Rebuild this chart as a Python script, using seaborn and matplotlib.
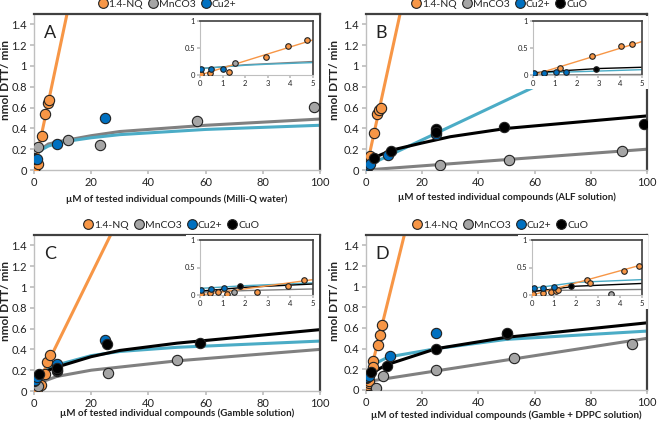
import matplotlib
matplotlib.use("Agg")
import matplotlib.pyplot as plt
from matplotlib.lines import Line2D
from matplotlib.patches import Rectangle
import seaborn as sns
import pandas as pd

sns.set_theme(style="white")
plt.rcParams['font.family'] = ['Lato', 'DejaVu Sans']

# ---------------- data ----------------
series_names = ["1.4-NQ", "MnCO3", "Cu2+", "CuO"]
panel_letters = ["A", "B", "C", "D"]
xlabels = ["µM of tested individual compounds (Milli-Q water)",
           "µM of tested individual compounds (ALF solution)",
           "µM of tested individual compounds (Gamble solution)",
           "µM of tested individual compounds (Gamble + DPPC solution)"]
ylabel_text = "nmol DTT/ min"
x_ticks = [0, 20, 40, 60, 80, 100]
y_ticks = [0, 0.2, 0.4, 0.6, 0.8, 1, 1.2, 1.4]
y_tick_labels = ["0", "0.2", "0.4", "0.6", "0.8", "1", "1.2", "1.4"]
inset_x_ticks = [0, 1, 2, 3, 4, 5]
inset_y_ticks = [0, 0.5, 1]
inset_y_tick_labels = ["0", "0.5", "1"]

# Panel A (Milli-Q water)
A_nq_x = [0.05, 0.45, 1.3, 2.9, 3.9, 4.75, 5.3]
A_nq_y = [0.02, 0.03, 0.06, 0.33, 0.54, 0.64, 0.67]
A_mn_x = [1.55, 12, 23, 57, 98]
A_mn_y = [0.22, 0.29, 0.24, 0.47, 0.61]
A_cu_x = [0.05, 0.5, 1.0, 8, 25]
A_cu_y = [0.12, 0.11, 0.11, 0.25, 0.50]
A_nq_fit_x = [0, 12]
A_nq_fit_y = [0, 1.56]
A_mn_fit_x = [0, 1, 2, 3, 5, 10, 20, 30, 60, 100]
A_mn_fit_y = [0.12, 0.15, 0.19, 0.21, 0.25, 0.28, 0.33, 0.37, 0.43, 0.49]
A_cu_fit_x = [0, 1, 2, 3, 5, 10, 20, 30, 60, 100]
A_cu_fit_y = [0.12, 0.15, 0.18, 0.20, 0.23, 0.27, 0.31, 0.34, 0.39, 0.43]

# Panel B (ALF)
B_nq_x = [0.05, 0.5, 1.25, 2.7, 4.05, 4.55, 5.3]
B_nq_y = [0.01, 0.03, 0.13, 0.36, 0.54, 0.58, 0.60]
B_mn_x = [26.5, 51, 91]
B_mn_y = [0.05, 0.10, 0.18]
B_cu_x = [0.05, 0.5, 1.05, 1.5, 8, 25]
B_cu_y = [0.04, 0.03, 0.05, 0.06, 0.14, 0.35]
B_cuo_x = [2.9, 9, 25, 25, 49, 99]
B_cuo_y = [0.12, 0.18, 0.39, 0.37, 0.41, 0.44]
B_nq_fit_x = [0, 13]
B_nq_fit_y = [0, 1.61]
B_mn_fit_x = [0, 100]
B_mn_fit_y = [0, 0.20]
B_cu_fit_x = [0, 100]
B_cu_fit_y = [0.035, 1.31]
B_cuo_fit_x = [0, 1, 3, 9, 20, 30, 50, 100]
B_cuo_fit_y = [0.04, 0.07, 0.12, 0.19, 0.26, 0.32, 0.40, 0.52]

# Panel C (Gamble)
C_nq_x = [0.05, 0.45, 0.8, 1.2, 2.5, 3.9, 4.6, 5.5]
C_nq_y = [0.01, 0.03, 0.06, 0.02, 0.06, 0.16, 0.28, 0.35]
C_mn_x = [1.5, 8, 26, 50]
C_mn_y = [0.05, 0.19, 0.17, 0.30]
C_cu_x = [0.05, 0.5, 1.05, 8, 25]
C_cu_y = [0.10, 0.11, 0.13, 0.26, 0.49]
C_cuo_x = [1.75, 8, 8, 25.5, 58]
C_cuo_y = [0.16, 0.20, 0.22, 0.45, 0.46]
C_nq_fit_x = [0, 30]
C_nq_fit_y = [0, 1.68]
C_mn_fit_x = [0, 2, 5, 8, 20, 30, 50, 100]
C_mn_fit_y = [0.05, 0.08, 0.11, 0.14, 0.20, 0.23, 0.29, 0.40]
C_cu_fit_x = [0, 2, 5, 8, 20, 30, 50, 100]
C_cu_fit_y = [0.12, 0.17, 0.22, 0.25, 0.34, 0.38, 0.42, 0.48]
C_cuo_fit_x = [0, 2, 5, 8, 20, 30, 50, 100]
C_cuo_fit_y = [0.07, 0.14, 0.20, 0.23, 0.33, 0.39, 0.46, 0.59]

# Panel D (Gamble + DPPC)
D_nq_x = [0.05, 0.5, 0.85, 1.1, 1.2, 2.5, 2.65, 4.2, 4.85, 5.8]
D_nq_y = [0.01, 0.04, 0.05, 0.07, 0.09, 0.28, 0.22, 0.44, 0.53, 0.63]
D_mn_x = [3.6, 6, 25, 52.5, 94.5]
D_mn_y = [0.02, 0.14, 0.19, 0.31, 0.45]
D_cu_x = [0.1, 0.5, 1.0, 8.5, 25]
D_cu_y = [0.12, 0.13, 0.14, 0.33, 0.55]
D_cuo_x = [1.75, 7.5, 25, 50, 50]
D_cuo_y = [0.17, 0.23, 0.40, 0.54, 0.55]
D_nq_fit_x = [0, 14]
D_nq_fit_y = [0, 1.54]
D_mn_fit_x = [0, 100]
D_mn_fit_y = [0.08, 0.50]
D_cu_fit_x = [0, 2, 5, 8, 25, 50, 100]
D_cu_fit_y = [0.12, 0.23, 0.28, 0.32, 0.40, 0.49, 0.57]
D_cuo_fit_x = [0, 2, 5, 8, 25, 50, 100]
D_cuo_fit_y = [0.06, 0.16, 0.21, 0.25, 0.40, 0.51, 0.65]

# ---------------- styles ----------------
point_colors = {"1.4-NQ": "#f79646", "MnCO3": "#a5a5a5", "Cu2+": "#0070c0", "CuO": "#000000"}
line_colors = {"1.4-NQ": "#f79646", "MnCO3": "#808080", "Cu2+": "#4bacc6", "CuO": "#000000"}

panels = [
    dict(pts={"1.4-NQ": (A_nq_x, A_nq_y), "MnCO3": (A_mn_x, A_mn_y), "Cu2+": (A_cu_x, A_cu_y)},
         fits={"MnCO3": (A_mn_fit_x, A_mn_fit_y), "Cu2+": (A_cu_fit_x, A_cu_fit_y),
               "1.4-NQ": (A_nq_fit_x, A_nq_fit_y)}),
    dict(pts={"1.4-NQ": (B_nq_x, B_nq_y), "MnCO3": (B_mn_x, B_mn_y), "Cu2+": (B_cu_x, B_cu_y),
              "CuO": (B_cuo_x, B_cuo_y)},
         fits={"MnCO3": (B_mn_fit_x, B_mn_fit_y), "Cu2+": (B_cu_fit_x, B_cu_fit_y),
               "CuO": (B_cuo_fit_x, B_cuo_fit_y), "1.4-NQ": (B_nq_fit_x, B_nq_fit_y)}),
    dict(pts={"1.4-NQ": (C_nq_x, C_nq_y), "MnCO3": (C_mn_x, C_mn_y), "Cu2+": (C_cu_x, C_cu_y),
              "CuO": (C_cuo_x, C_cuo_y)},
         fits={"MnCO3": (C_mn_fit_x, C_mn_fit_y), "Cu2+": (C_cu_fit_x, C_cu_fit_y),
               "CuO": (C_cuo_fit_x, C_cuo_fit_y), "1.4-NQ": (C_nq_fit_x, C_nq_fit_y)}),
    dict(pts={"1.4-NQ": (D_nq_x, D_nq_y), "MnCO3": (D_mn_x, D_mn_y), "Cu2+": (D_cu_x, D_cu_y),
              "CuO": (D_cuo_x, D_cuo_y)},
         fits={"MnCO3": (D_mn_fit_x, D_mn_fit_y), "Cu2+": (D_cu_fit_x, D_cu_fit_y),
               "CuO": (D_cuo_fit_x, D_cuo_fit_y), "1.4-NQ": (D_nq_fit_x, D_nq_fit_y)}),
]

W, H = 658, 422
fig = plt.figure(figsize=(W / 100, H / 100), dpi=100)
fig.patch.set_facecolor("white")

# pixel boxes (left, top, right, bottom)
main_boxes = [(34, 14, 320, 170), (366, 14, 647, 170), (34, 235, 320, 391), (366, 235, 647, 390)]
inset_boxes = [(200, 21, 313, 75), (533, 21, 642, 75), (200, 240, 313, 295), (532, 240, 642, 295)]
ylabel_x_px = [5, 334, 5, 334]
xlabel_y_px = [199, 197, 413, 415]
legend_cx_px = [167, 499, 171, 500]


def px_axes(box, z=1):
    l, t, r, b = box
    return fig.add_axes([l / W, 1 - b / H, (r - l) / W, (b - t) / H], zorder=z)


def style_frame(ax, lw_dark, lw_light):
    for s in ["left", "bottom"]:
        ax.spines[s].set_color("#bfbfbf")
        ax.spines[s].set_linewidth(lw_light)
    for s in ["top", "right"]:
        ax.spines[s].set_color("#404040")
        ax.spines[s].set_linewidth(lw_dark)


def draw(ax, p, ms, lw, inset=False):
    for name, (fx, fy) in p["fits"].items():
        df = pd.DataFrame({"x": fx, "y": fy})
        sns.lineplot(data=df, x="x", y="y", ax=ax, color=line_colors[name], lw=lw,
                     estimator=None, sort=False, zorder=2)
    for name, (xs, ys) in p["pts"].items():
        df = pd.DataFrame({"x": xs, "y": ys})
        if inset:
            df = df[df["x"] <= 5.2]
        sns.scatterplot(data=df, x="x", y="y", ax=ax, color=point_colors[name], s=ms,
                        edgecolor="#222222", linewidth=0.8, zorder=3, legend=False)


for i, p in enumerate(panels):
    l0, t0, r0, b0 = main_boxes[i]
    ax = px_axes(main_boxes[i], z=1)
    draw(ax, p, ms=55, lw=2.2)
    ax.set_xlim(0, 100)
    ax.set_ylim(0, 1.5)
    ax.set_xticks(x_ticks)
    ax.set_yticks(y_ticks)
    ax.set_yticklabels(y_tick_labels)
    ax.tick_params(axis="both", labelsize=8, length=3, color="#bfbfbf", pad=2,
                   direction="out", bottom=True, left=True, labelcolor="#222222")
    ax.set_xlabel(xlabels[i], fontsize=7, fontweight="bold", color="#222222", va="center")
    ax.xaxis.set_label_coords(0.5, -(xlabel_y_px[i] - b0) / (b0 - t0))
    ax.set_ylabel(ylabel_text, fontsize=8.5, fontweight="bold", color="#222222", va="center")
    ax.yaxis.set_label_coords((ylabel_x_px[i] - l0) / (r0 - l0), 0.575)
    style_frame(ax, 1.6, 1.0)
    ax.text(0.035, 0.93, panel_letters[i], transform=ax.transAxes, fontsize=13,
            va="top", ha="left", color="#222222")
    ax.grid(False)

    # white background for inset chart area
    l, t, r, b = inset_boxes[i]
    fig.patches.append(Rectangle(((l - 14) / W, 1 - (b + 14) / H), (r - l + 20) / W, (b - t + 19) / H,
                                 transform=fig.transFigure, facecolor="white", edgecolor="none",
                                 zorder=1.5))
    iax = px_axes(inset_boxes[i], z=3)
    draw(iax, p, ms=16, lw=1.0, inset=True)
    iax.set_xlim(0, 5)
    iax.set_ylim(0, 1)
    iax.set_xticks(inset_x_ticks)
    iax.set_yticks(inset_y_ticks)
    iax.set_yticklabels(inset_y_tick_labels)
    iax.tick_params(axis="both", labelsize=5.5, length=2, color="#bfbfbf", pad=1.5,
                    direction="out", bottom=True, left=True, labelcolor="#222222")
    iax.set_xlabel("")
    iax.set_ylabel("")
    style_frame(iax, 1.2, 0.8)
    iax.grid(False)

    # legend
    names = list(p["pts"].keys())
    handles = [Line2D([], [], marker="o", ls="", markerfacecolor=point_colors[n],
                      markeredgecolor="#222222", markersize=7, markeredgewidth=0.8) for n in names]
    cx = legend_cx_px[i] / W
    cy = 1 - (t0 - 10) / H
    fig.legend(handles, names, loc="center", bbox_to_anchor=(cx, cy), ncol=len(names),
               frameon=False, fontsize=7.5, handletextpad=0.05, columnspacing=0.5,
               handlelength=1.0, borderpad=0)

fig.savefig("out.png", dpi=100)
